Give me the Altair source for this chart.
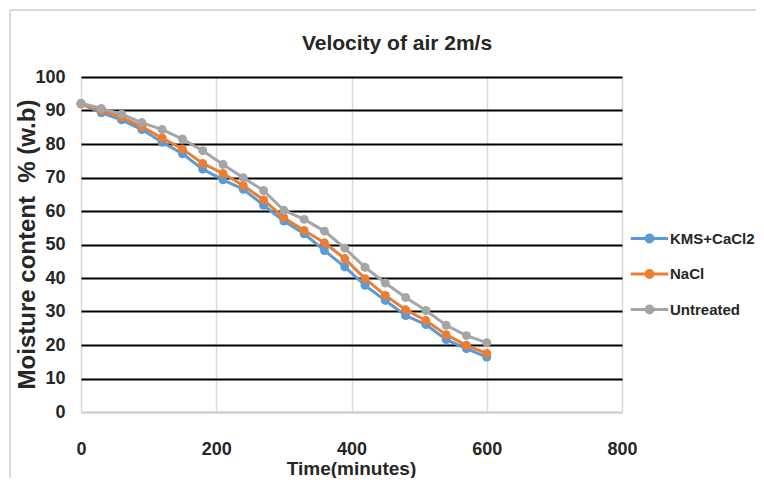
import altair as alt
import pandas as pd

time_min = [0, 30, 60, 90, 120, 150, 180, 210, 240, 270, 300,
            330, 360, 390, 420, 450, 480, 510, 540, 570, 600]
kms_cacl2 = [92.0, 89.3, 87.2, 84.3, 80.5, 77.1, 72.5, 69.3, 66.5, 61.7, 57.0,
             53.2, 48.2, 43.3, 37.8, 33.3, 28.8, 26.1, 21.6, 18.9, 16.4]
nacl = [92.0, 90.0, 88.0, 85.2, 81.8, 78.5, 74.2, 71.2, 67.6, 63.3, 58.0,
        54.2, 50.5, 45.8, 39.8, 34.8, 30.5, 27.3, 23.1, 19.9, 17.5]
untreated = [92.2, 90.6, 88.9, 86.4, 84.3, 81.5, 78.0, 73.9, 69.9, 66.1, 60.2,
             57.5, 54.0, 48.9, 43.2, 38.5, 34.2, 30.3, 25.9, 22.8, 20.7]

series_names = ["KMS+CaCl2", "NaCl", "Untreated"]
series_colors = ["#5B9BD5", "#ED7D31", "#A5A5A5"]
x_ticks = [0, 200, 400, 600, 800]
y_ticks = [0, 10, 20, 30, 40, 50, 60, 70, 80, 90, 100]
chart_title = "Velocity of air 2m/s"
x_title = "Time(minutes)"
y_title = "Moisture content\u00a0 % (w.b)"

rows = []
for name, vals in zip(series_names, [kms_cacl2, nacl, untreated]):
    for t, v in zip(time_min, vals):
        rows.append({"time": t, "moisture": v, "series": name})
df = pd.DataFrame(rows)
one = pd.DataFrame({"label": [chart_title]})

FONT = "Liberation Sans"
TXT = "#262626"

legend_symbol = ("M-1.1,0L1.1,0M-0.2,0A0.2,0.2,0,1,1,0.2,0"
                 "A0.2,0.2,0,1,1,-0.2,0Z")

lines = alt.Chart(df).mark_line(
    strokeWidth=3,
    point=alt.OverlayMarkDef(filled=True, size=80, opacity=1),
).encode(
    x=alt.X("time:Q", scale=alt.Scale(domain=[0, 800], nice=False),
            axis=alt.Axis(values=x_ticks, title=x_title, grid=True,
                          gridColor="#d9d9d9", gridWidth=1.5,
                          domain=True, domainColor="#d0d0d0", domainWidth=2,
                          ticks=False, tickSize=0, labelPadding=28,
                          labelFlush=False,
                          labelFontSize=18, labelFontWeight="bold",
                          labelColor=TXT, labelFont=FONT,
                          titleFontSize=19, titleFontWeight="bold",
                          titleColor=TXT, titleFont=FONT,
                          titleX=270, titleY=56, titleBaseline="middle",
                          titleAlign="center")),
    y=alt.Y("moisture:Q", scale=alt.Scale(domain=[0, 100], nice=False),
            axis=alt.Axis(values=y_ticks, title=y_title,
                          grid=True,
                          gridColor={"condition": {"test": "datum.value === 0",
                                                   "value": "#d0d0d0"},
                                     "value": "#000000"},
                          gridWidth=2, domain=False, ticks=False, tickSize=0,
                          labelPadding=16, labelFontSize=18, labelFlush=False,
                          labelFontWeight="bold", labelColor=TXT,
                          labelFont=FONT, titleFontSize=24,
                          titleFontWeight="bold", titleColor=TXT,
                          titleFont=FONT, titleX=-54, titleY=167,
                          titleAngle=270, titleBaseline="middle",
                          titleAlign="center")),
    color=alt.Color("series:N",
                    scale=alt.Scale(domain=series_names, range=series_colors),
                    legend=alt.Legend(title=None, orient="none",
                                      legendX=550, legendY=143,
                                      symbolType=legend_symbol,
                                      symbolSize=1156, symbolStrokeWidth=3,
                                      labelFontSize=15, labelFontWeight="bold",
                                      labelColor=TXT, labelFont=FONT,
                                      labelOffset=2, rowPadding=7.5,
                                      labelLimit=200, padding=0)),
)

title_mark = alt.Chart(one).mark_text(
    fontSize=21, fontWeight="bold", color=TXT, font=FONT,
    align="center", baseline="middle",
).encode(x=alt.value(316), y=alt.value(-33), text="label:N")

frame_top = alt.Chart(one).mark_rule(color="#d9d9d9", strokeWidth=2).encode(
    x=alt.value(-71), x2=alt.value(700), y=alt.value(-67))
frame_left = alt.Chart(one).mark_rule(color="#d9d9d9", strokeWidth=2).encode(
    x=alt.value(-71), y=alt.value(-67), y2=alt.value(420))

chart = alt.layer(frame_top, frame_left, title_mark, lines).properties(
    width=541, height=335,
    autosize=alt.AutoSizeParams(type="none"),
    padding={"left": 73, "top": 69, "right": 134, "bottom": 66},
).configure_view(strokeWidth=0)

chart.save("out.html", embed_options={"renderer": "svg", "actions": False})
